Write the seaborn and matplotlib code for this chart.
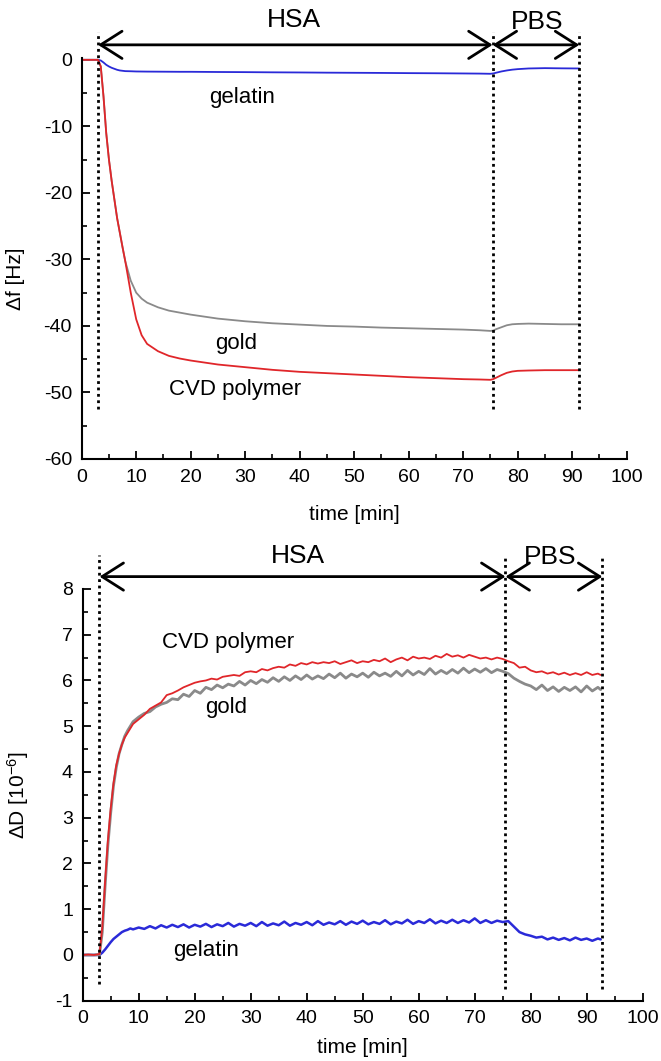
import pandas as pd
import matplotlib
matplotlib.use("Agg")
import matplotlib.pyplot as plt
import seaborn as sns

sns.set_style("ticks")
plt.rcParams['font.family'] = ['Liberation Sans', 'DejaVu Sans']
plt.rcParams['mathtext.default'] = 'regular'
# black text / axes instead of seaborn's dark grey
for key in ['text.color', 'axes.labelcolor', 'axes.edgecolor', 'xtick.color', 'ytick.color']:
    plt.rcParams[key] = 'black'

# ---- top panel: frequency shift ----
t_f = [0, 1, 2, 3, 3.5, 4, 4.5, 5, 5.5, 6, 6.5, 7, 7.5, 8, 9, 10, 11, 12, 14, 16,
       18, 20, 25, 30, 35, 40, 45, 50, 55, 60, 65, 70, 73, 75, 75.5, 76, 77, 78, 79, 80,
       82, 85, 88, 91.3]
f_cvd = [0, 0, 0, 0, -1, -5.5, -11, -15, -18.2, -21, -23.8, -26, -28.2, -30.3, -35, -39,
         -41.4, -42.7, -43.8, -44.5, -44.9, -45.2, -45.8, -46.2, -46.6, -46.9, -47.1, -47.3,
         -47.5, -47.7, -47.85, -48.0, -48.05, -48.1, -48.0, -47.8, -47.4, -47.05, -46.85,
         -46.75, -46.7, -46.65, -46.65, -46.65]
f_gold = [0, 0, 0, 0, -1, -5.5, -11, -15, -18.2, -21, -23.8, -26, -28.2, -30.3, -33.2, -35.0,
          -35.9, -36.5, -37.2, -37.7, -38.0, -38.3, -38.9, -39.3, -39.6, -39.8, -40.0, -40.1,
          -40.25, -40.35, -40.45, -40.55, -40.65, -40.75, -40.7, -40.5, -40.2, -39.9, -39.75,
          -39.7, -39.65, -39.7, -39.75, -39.75]
f_gel = [0, 0, 0, 0, -0.1, -0.4, -0.75, -1.0, -1.2, -1.35, -1.5, -1.6, -1.65, -1.7, -1.72, -1.75,
         -1.76, -1.77, -1.78, -1.79, -1.8, -1.8, -1.83, -1.85, -1.88, -1.9, -1.93, -1.95,
         -1.97, -2.0, -2.02, -2.05, -2.07, -2.1, -2.05, -1.95, -1.75, -1.6, -1.48, -1.4,
         -1.3, -1.25, -1.28, -1.3]

# ---- bottom panel: dissipation shift ----
t_d = [0, 1, 2, 3, 3.5, 4, 4.5, 5, 5.5, 6, 6.5, 7, 7.5, 8, 8.5, 9,
       10, 11, 12, 13, 14, 15, 16, 17, 18, 19, 20, 21, 22, 23, 24, 25, 26, 27, 28, 29,
       30, 31, 32, 33, 34, 35, 36, 37, 38, 39, 40, 41, 42, 43, 44, 45, 46, 47, 48, 49,
       50, 51, 52, 53, 54, 55, 56, 57, 58, 59, 60, 61, 62, 63, 64, 65, 66, 67, 68, 69,
       70, 71, 72, 73, 74, 75, 76, 77, 78, 79, 80, 81, 82, 83, 84, 85, 86, 87, 88, 89,
       90, 91, 92, 92.5]
d_cvd = [0, 0.01, 0, 0.02, 0.6, 1.6, 2.5, 3.2, 3.75, 4.15, 4.4, 4.6, 4.75, 4.85, 4.95, 5.05,
         5.15, 5.25, 5.38, 5.45, 5.52, 5.68, 5.72, 5.78, 5.85, 5.9, 5.95, 5.98, 6.0, 6.04, 6.02, 6.08, 6.1, 6.12, 6.1, 6.18,
         6.2, 6.18, 6.25, 6.22, 6.27, 6.3, 6.28, 6.35, 6.32, 6.38, 6.35, 6.4, 6.37, 6.4, 6.38, 6.42, 6.36, 6.4, 6.44, 6.38,
         6.42, 6.4, 6.45, 6.42, 6.48, 6.4, 6.46, 6.5, 6.44, 6.52, 6.48, 6.5, 6.47, 6.54, 6.5, 6.58, 6.52, 6.55, 6.5, 6.56,
         6.52, 6.48, 6.5, 6.46, 6.5, 6.47, 6.42, 6.38, 6.28, 6.3, 6.22, 6.18, 6.2, 6.15, 6.18, 6.13, 6.17, 6.12, 6.16, 6.12,
         6.18, 6.12, 6.15, 6.12]
d_gold = [0, 0, 0, 0.01, 0.5, 1.5, 2.4, 3.1, 3.7, 4.1, 4.4, 4.6, 4.78, 4.9, 5.0, 5.1,
          5.2, 5.28, 5.32, 5.42, 5.48, 5.52, 5.6, 5.58, 5.7, 5.65, 5.78, 5.72, 5.85, 5.8, 5.9, 5.84, 5.92, 5.88, 5.98, 5.9,
          6.0, 5.93, 6.02, 5.96, 6.06, 5.98, 6.08, 6.0, 6.1, 6.02, 6.12, 6.03, 6.1, 6.04, 6.14, 6.06, 6.16, 6.05, 6.14, 6.08,
          6.16, 6.07, 6.18, 6.1, 6.16, 6.09, 6.2, 6.1, 6.22, 6.12, 6.2, 6.13, 6.26, 6.14, 6.22, 6.15, 6.24, 6.16, 6.27, 6.17,
          6.25, 6.18, 6.26, 6.17, 6.24, 6.2, 6.15, 6.05, 5.98, 5.92, 5.88, 5.8, 5.9, 5.78, 5.86, 5.76, 5.85, 5.78, 5.86, 5.75,
          5.88, 5.77, 5.85, 5.8]
d_gel = [0, 0, 0, 0, 0.05, 0.12, 0.2, 0.28, 0.35, 0.4, 0.45, 0.5, 0.53, 0.55, 0.58, 0.56,
         0.6, 0.57, 0.63, 0.58, 0.65, 0.6, 0.66, 0.61, 0.67, 0.6, 0.66, 0.62, 0.68, 0.61, 0.67, 0.63, 0.7, 0.62, 0.68, 0.64,
         0.7, 0.63, 0.72, 0.64, 0.69, 0.65, 0.73, 0.64, 0.7, 0.66, 0.72, 0.65, 0.74, 0.66, 0.71, 0.67, 0.74, 0.66, 0.73, 0.68,
         0.75, 0.67, 0.72, 0.68, 0.76, 0.67, 0.73, 0.69, 0.77, 0.68, 0.74, 0.7, 0.78, 0.69, 0.75, 0.7, 0.77, 0.7, 0.76, 0.71,
         0.8, 0.7, 0.76, 0.7, 0.75, 0.72, 0.74, 0.62, 0.5, 0.45, 0.42, 0.38, 0.4, 0.34, 0.38, 0.33, 0.37, 0.32, 0.38, 0.33,
         0.36, 0.31, 0.36, 0.34]

surfaces = ['gelatin', 'gold', 'CVD polymer']
colors = {'gelatin': '#2a2ad8', 'gold': '#8a8a8a', 'CVD polymer': '#e0262a'}

# marker lines (start of HSA, switch to PBS, end)
marks_top = [3, 75.4, 91.3]
marks_bot = [3, 75.5, 92.8]

df_top = pd.concat([pd.DataFrame({'time': t_f, 'val': v, 'surface': s})
                    for s, v in zip(surfaces, [f_gel, f_gold, f_cvd])])
df_bot = pd.concat([pd.DataFrame({'time': t_d, 'val': v, 'surface': s})
                    for s, v in zip(surfaces, [d_gel, d_gold, d_cvd])])

fig = plt.figure(figsize=(6.61, 10.61), dpi=100)
ax1 = fig.add_axes([0.1236, 0.5674, 0.8245, 0.3781])
ax2 = fig.add_axes([0.1251, 0.0568, 0.8472, 0.3881])

lw_top = {'gelatin': 1.3, 'gold': 1.3, 'CVD polymer': 1.3}
lw_bot = {'gelatin': 1.8, 'gold': 2.0, 'CVD polymer': 1.3}

for s in surfaces:
    sns.lineplot(data=df_top[df_top['surface'] == s], x='time', y='val', color=colors[s],
                 lw=lw_top[s], estimator=None, sort=False, ax=ax1)
    sns.lineplot(data=df_bot[df_bot['surface'] == s], x='time', y='val', color=colors[s],
                 lw=lw_bot[s], estimator=None, sort=False, ax=ax2)


def style_axis(ax, ylim, ymajor, yminor, ylabel, label_xy):
    ax.set_xlim(0, 100)
    ax.set_ylim(*ylim)
    ax.set_xticks(range(0, 101, 10))
    ax.set_xticks(range(5, 100, 10), minor=True)
    ax.set_yticks(ymajor)
    ax.set_yticks(yminor, minor=True)
    ax.set_yticklabels([str(v) for v in ymajor])
    ax.tick_params(which='major', direction='in', length=6, width=1.3, labelsize=14, pad=7)
    ax.tick_params(which='minor', direction='in', length=3.5, width=1.2)
    for side in ['top', 'right']:
        ax.spines[side].set_visible(False)
    for side in ['left', 'bottom']:
        ax.spines[side].set_linewidth(1.5)
    ax.set_xlabel('time [min]', fontsize=15)
    ax.set_ylabel(ylabel, fontsize=15)
    ax.yaxis.set_label_coords(*label_xy)


style_axis(ax1, (-60, 0.3), list(range(-60, 1, 10)), list(range(-55, 0, 10)),
           'Δf [Hz]', (-0.104, 0.45))
ax1.xaxis.set_label_coords(0.5, -0.115)
style_axis(ax2, (-1, 8), list(range(-1, 9)), [v + 0.5 for v in range(-1, 8)],
           'ΔD [10$^{-6}$]', (-0.092, 0.5))
ax2.xaxis.set_label_coords(0.5, -0.09)

# dotted phase markers and arrows
dot = dict(color='black', lw=2, ls=(0, (1, 1.3)), clip_on=False)
for ax, marks, ylo, yhi, yarr, ytxt in [(ax1, marks_top, -52.5, 4.2, 2.25, 6.0),
                                        (ax2, marks_bot, -0.75, 8.75, 8.27, 8.72)]:
    for i, m in enumerate(marks):
        lo = ylo if i > 0 or ax is ax1 else -0.63
        ax.plot([m, m], [lo, yhi], **dot)
    for a, b, lab in [(marks[0], marks[1], 'HSA'), (marks[1], marks[2], 'PBS')]:
        ax.annotate('', xy=(b, yarr), xytext=(a, yarr), annotation_clip=False,
                    arrowprops=dict(arrowstyle='<->,head_length=0.55,head_width=0.35',
                                    lw=2, color='black', mutation_scale=28,
                                    shrinkA=0, shrinkB=0))
    ax.text(39 if ax is ax1 else 38.5, ytxt, 'HSA', ha='center', va='center', fontsize=19)
    ax.text(83.5, ytxt - (0.25 if ax is ax1 else 0.03), 'PBS', ha='center', va='center',
            fontsize=19)

# curve labels
ax1.text(29.5, -5.6, 'gelatin', ha='center', va='center', fontsize=16)
ax1.text(28.3, -42.6, 'gold', ha='center', va='center', fontsize=16)
ax1.text(28.2, -49.6, 'CVD polymer', ha='center', va='center', fontsize=16)
ax2.text(25.9, 6.84, 'CVD polymer', ha='center', va='center', fontsize=16)
ax2.text(25.6, 5.42, 'gold', ha='center', va='center', fontsize=16)
ax2.text(22.1, 0.1, 'gelatin', ha='center', va='center', fontsize=16)

plt.savefig('out.png', dpi=100)
